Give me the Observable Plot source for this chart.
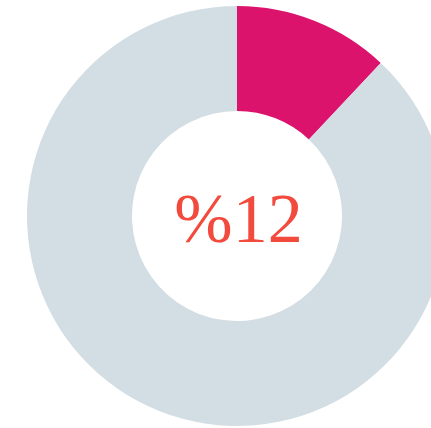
<!DOCTYPE html>
<html>
<head>
<meta charset="utf-8">
<script src="https://cdn.jsdelivr.net/npm/d3@7"></script>
<script src="https://cdn.jsdelivr.net/npm/@observablehq/plot@0.6"></script>
<style>
html,body{margin:0;padding:0;background:#fff;}
</style>
</head>
<body>
<div id="chart"></div>
<script>
const categories = ["share", "rest"];
const values = [12, 88];
const colors = ["#dc136c", "#d3dee4"];
const label = "%12";

const data = categories.map((c, i) => ({category: c, value: values[i], color: colors[i]}));
const pie = d3.pie().value(d => d.value).sort(null)(data);

const innerRatio = 0.5;

function donut(index, scales, vals, dimensions, context) {
  const cx = scales.x(0), cy = scales.y(0);
  const r = scales.x(1) - scales.x(0);
  const arc = d3.arc().innerRadius(r * innerRatio).outerRadius(r);
  const g = d3.create("svg:g").attr("transform", `translate(${cx},${cy})`);
  g.selectAll("path").data(pie).join("path")
    .attr("d", arc)
    .attr("fill", d => d.data.color);
  return g.node();
}

const chart = Plot.plot({
  width: 431,
  height: 428,
  margin: 0,
  x: {domain: [-237/210, 194/210], axis: null},
  y: {domain: [-212/210, 216/210], axis: null},
  marks: [
    donut,
    Plot.text([label], {x: () => 0, y: () => 0, text: d => d,
      fontSize: 70, fill: "#f24a3c", fontFamily: "Liberation Serif", dy: 3, dx: 1})
  ]
});
document.getElementById("chart").appendChild(chart);
</script>
</body>
</html>
